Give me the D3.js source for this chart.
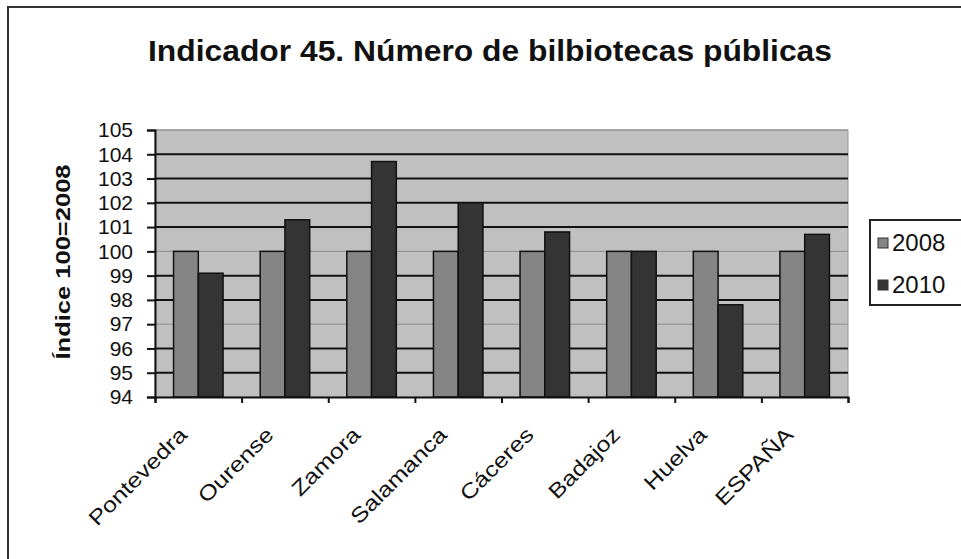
<!DOCTYPE html>
<html>
<head>
<meta charset="utf-8">
<script src="https://cdnjs.cloudflare.com/ajax/libs/d3/7.8.5/d3.min.js"></script>
<style>
  body { margin: 0; background: #fff; }
  text { font-family: "Liberation Sans", Arial, sans-serif; fill: #111; }
</style>
</head>
<body>
<svg id="chart" width="961" height="559"></svg>
<script>
// data
var categories = ["Pontevedra", "Ourense", "Zamora", "Salamanca", "Cáceres", "Badajoz", "Huelva", "ESPAÑA"];
var series = ["2008", "2010"];
var values2008 = [100, 100, 100, 100, 100, 100, 100, 100];
var values2010 = [99.1, 101.3, 103.7, 102.0, 100.8, 100.0, 97.8, 100.7];
var yTicks = [94, 95, 96, 97, 98, 99, 100, 101, 102, 103, 104, 105];

var colors = { "2008": "#858585", "2010": "#343434" };

var svg = d3.select("#chart");

// outer frame of the chart area
svg.append("rect")
    .attr("x", 8).attr("y", 7)
    .attr("width", 1000).attr("height", 600)
    .attr("fill", "#fff")
    .attr("stroke", "#333")
    .attr("stroke-width", 2);

var plotL = 155, plotR = 848, plotT = 130, plotB = 397;

var y = d3.scaleLinear().domain([94, 105]).range([plotB, plotT]);

// gap width 150% like the spreadsheet default
var x = d3.scaleBand().domain(categories).range([plotL, plotR])
    .paddingInner(1.5 / 3.5).paddingOuter(0.75 / 3.5);
var xs = d3.scaleBand().domain(series).range([0, x.bandwidth()]);

// plot background
svg.append("rect")
    .attr("x", plotL).attr("y", plotT)
    .attr("width", plotR - plotL).attr("height", plotB - plotT)
    .attr("fill", "#c0c0c0")
    .attr("stroke", "#9a9a9a");

// gridlines
svg.append("g").selectAll("line")
    .data(yTicks.filter(function(d) { return d > 94; }))
    .enter().append("line")
    .attr("x1", plotL).attr("x2", plotR)
    .attr("y1", function(d) { return y(d); })
    .attr("y2", function(d) { return y(d); })
    .attr("stroke", function(d) { return (d == 97 || d == 100 || d == 105) ? "#8c8c8c" : "#111"; })
    .attr("stroke-width", function(d) { return (d == 97 || d == 100 || d == 105) ? 1 : 2; });

// bars
var rows = categories.map(function(c, i) {
    return { cat: c, vals: [{ s: "2008", v: values2008[i] }, { s: "2010", v: values2010[i] }] };
});

var groups = svg.append("g").selectAll("g")
    .data(rows)
    .enter().append("g")
    .attr("transform", function(d) { return "translate(" + x(d.cat) + ",0)"; });

groups.selectAll("rect")
    .data(function(d) { return d.vals; })
    .enter().append("rect")
    .attr("x", function(d) { return xs(d.s); })
    .attr("width", xs.bandwidth())
    .attr("y", function(d) { return y(d.v); })
    .attr("height", function(d) { return plotB - y(d.v); })
    .attr("fill", function(d) { return colors[d.s]; })
    .attr("stroke", "#111")
    .attr("stroke-width", 1.5);

// y axis
var yAxis = d3.axisLeft(y).tickValues(yTicks).tickSize(8).tickPadding(14);
var gy = svg.append("g").attr("transform", "translate(" + plotL + ",0)").call(yAxis);
gy.select(".domain").attr("stroke", "#111").attr("stroke-width", 2);
gy.selectAll(".tick line").attr("stroke", "#111").attr("stroke-width", 2);
gy.selectAll(".tick text")
    .style("font-size", "21px")
    .style("font-family", "'Liberation Sans', Arial, sans-serif")
    .attr("fill", "#111");

// x axis: ticks between categories
var xb = d3.scaleLinear().domain([0, categories.length]).range([plotL, plotR]);
var xAxis = d3.axisBottom(xb).ticks(categories.length).tickSize(6).tickFormat("");
var gx = svg.append("g").attr("transform", "translate(0," + plotB + ")").call(xAxis);
gx.select(".domain").attr("stroke", "#111").attr("stroke-width", 2);
gx.selectAll(".tick line").attr("stroke", "#111").attr("stroke-width", 2);

// category labels, rotated
svg.append("g").selectAll("text")
    .data(categories)
    .enter().append("text")
    .attr("transform", function(d) {
        return "translate(" + (x(d) + x.bandwidth() / 2 - 10) + ",436) rotate(-45) scale(1.2,1)";
    })
    .attr("text-anchor", "end")
    .style("font-size", "21px")
    .text(function(d) { return d; });

// title
svg.append("text")
    .attr("x", 490).attr("y", 61)
    .attr("text-anchor", "middle")
    .attr("textLength", 684)
    .attr("lengthAdjust", "spacingAndGlyphs")
    .style("font-size", "29px")
    .style("font-weight", "bold")
    .text("Indicador 45. Número de bilbiotecas públicas");

// y axis title
svg.append("text")
    .attr("transform", "translate(70,262) rotate(-90)")
    .attr("text-anchor", "middle")
    .attr("textLength", 195)
    .attr("lengthAdjust", "spacingAndGlyphs")
    .style("font-size", "20px")
    .style("font-weight", "bold")
    .text("Índice 100=2008");

// legend
var lg = svg.append("g").attr("transform", "translate(870,220)");
lg.append("rect")
    .attr("width", 120).attr("height", 85)
    .attr("fill", "#fff")
    .attr("stroke", "#222").attr("stroke-width", 2);
var li = lg.selectAll("g.item")
    .data(series)
    .enter().append("g")
    .attr("class", "item")
    .attr("transform", function(d, i) { return "translate(8," + (18 + i * 42) + ")"; });
li.append("rect")
    .attr("width", 10).attr("height", 10)
    .attr("fill", function(d) { return colors[d]; })
    .attr("stroke", "#333");
li.append("text")
    .attr("x", 14).attr("y", 13)
    .style("font-size", "24px")
    .text(function(d) { return d; });
</script>
</body>
</html>
